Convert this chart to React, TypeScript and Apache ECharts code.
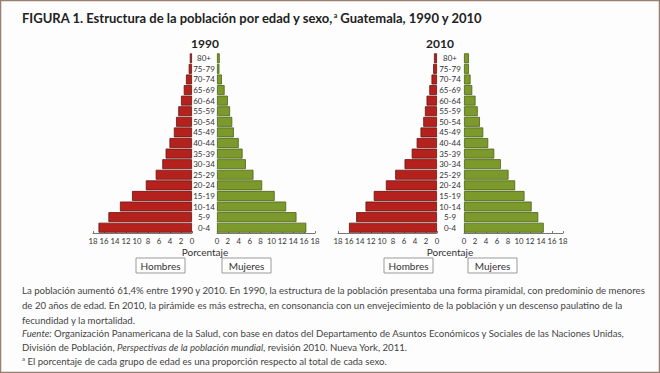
import React, { useEffect, useRef } from "react";
import * as echarts from "echarts";

const ageGroups = ["0-4","5-9","10-14","15-19","20-24","25-29","30-34","35-39","40-44","45-49","50-54","55-59","60-64","65-69","70-74","75-79","80+"];
const men1990 = [17.0,15.2,13.1,10.9,8.4,6.6,5.4,4.8,4.1,3.3,2.9,2.5,2.0,1.5,1.1,0.6,0.4];
const women1990 = [16.4,14.6,12.7,10.6,8.3,6.7,5.3,4.7,4.0,3.1,2.8,2.4,2.0,1.4,0.9,0.45,0.5];
const men2010 = [16.0,14.7,13.0,11.5,9.3,7.6,5.9,4.6,3.7,3.0,2.5,2.2,1.9,1.4,1.0,0.7,0.55];
const women2010 = [14.5,13.5,12.3,11.0,9.3,8.1,6.7,5.5,4.4,3.5,2.9,2.5,2.1,1.5,1.2,0.9,0.9];
const yearLabels = ["1990", "2010"];

const FONT = "Lato, 'Open Sans', sans-serif";
const RED = "#b5211d";
const RED_B = "#6a1410";
const GREEN = "#7c9a2b";
const GREEN_B = "#4b6215";

export default function App() {
  const ref = useRef<HTMLDivElement>(null);
  useEffect(() => {
    const chart = echarts.init(ref.current!, undefined, { renderer: "svg" });
    const grids = [
      { left: 93, top: 53, width: 99, height: 180 },
      { left: 217, top: 53, width: 98, height: 180 },
      { left: 338, top: 53, width: 99, height: 180 },
      { left: 464, top: 53, width: 99, height: 180 },
    ];
    const xAxes = grids.map((_, i) => ({
      type: "value" as const,
      gridIndex: i,
      min: 0,
      max: 18,
      interval: 2,
      inverse: i % 2 === 0,
      splitLine: { show: false },
      axisLine: { show: true, lineStyle: { color: "#777", width: 1 } },
      axisTick: { show: true, length: 2, inside: true, lineStyle: { color: "#777" } },
      axisLabel: { fontFamily: FONT, fontSize: 7.8, color: "#333", margin: 4 },
    }));
    const yAxes = grids.map((_, i) => ({
      type: "category" as const,
      gridIndex: i,
      data: ageGroups,
      axisLine: { show: false },
      axisTick: { show: false },
      axisLabel: {
        show: i % 2 === 1,
        fontFamily: FONT,
        fontSize: 8,
        color: "#333",
        align: "center" as const,
        margin: i === 1 ? 13 : 14,
      },
    }));
    const mk = (data: number[], i: number, male: boolean) => ({
      type: "bar" as const,
      xAxisIndex: i,
      yAxisIndex: i,
      data,
      barCategoryGap: "6%",
      itemStyle: {
        color: male ? RED : GREEN,
        borderColor: male ? RED_B : GREEN_B,
        borderWidth: 0.8,
      },
    });
    const box = (x: number, label: string) => ({
      type: "group",
      children: [
        { type: "rect", shape: { x, y: 258, width: 49, height: 15 }, style: { fill: "#fff", stroke: "#999", lineWidth: 1 } },
        { type: "text", x: x + 24.5, y: 265.5, style: { text: label, fontFamily: FONT, fontSize: 10, fill: "#333", align: "center", verticalAlign: "middle" } },
      ],
    });
    const para = (y: number, text: string) => ({
      type: "text", x: 22, y,
      style: { text, fontFamily: FONT, fontSize: 9.6, fill: "#444", verticalAlign: "middle", rich: { i: { fontStyle: "italic", fontFamily: FONT, fontSize: 9.6, fill: "#444" } } },
    });
    chart.setOption({
      animation: false,
      backgroundColor: "#fdfdfd",
      grid: grids,
      xAxis: xAxes,
      yAxis: yAxes,
      series: [mk(men1990, 0, true), mk(women1990, 1, false), mk(men2010, 2, true), mk(women2010, 3, false)],
      graphic: [
        { type: "rect", shape: { x: 0.5, y: 0.5, width: 659, height: 372 }, style: { fill: "none", stroke: "#9a7e6e", lineWidth: 1.5 } },
        {
          type: "text", x: 22, y: 18,
          style: {
            text: "{b|FIGURA 1. Estructura de la población por edad y sexo,}{s|a}{b| Guatemala, 1990 y 2010}",
            verticalAlign: "middle",
            rich: {
              b: { fontFamily: FONT, fontWeight: "bold", fontSize: 13, fill: "#222" },
              s: { fontFamily: FONT, fontWeight: "bold", fontSize: 7, fill: "#222", verticalAlign: "top", padding: [0, 0, 6, 0] },
            },
          },
        },
        { type: "text", x: 205, y: 43, style: { text: yearLabels[0], fontFamily: FONT, fontWeight: "bold", fontSize: 12, fill: "#222", align: "center", verticalAlign: "middle" } },
        { type: "text", x: 440, y: 43, style: { text: yearLabels[1], fontFamily: FONT, fontWeight: "bold", fontSize: 12, fill: "#222", align: "center", verticalAlign: "middle" } },
        { type: "text", x: 205, y: 252, style: { text: "Porcentaje", fontFamily: FONT, fontSize: 10, fill: "#333", align: "center", verticalAlign: "middle" } },
        { type: "text", x: 450, y: 252, style: { text: "Porcentaje", fontFamily: FONT, fontSize: 10, fill: "#333", align: "center", verticalAlign: "middle" } },
        box(136, "Hombres"),
        box(222, "Mujeres"),
        box(384, "Hombres"),
        box(468, "Mujeres"),
        para(290, "La población aumentó 61,4% entre 1990 y 2010. En 1990, la estructura de la población presentaba una forma piramidal, con predominio de menores"),
        para(305, "de 20 años de edad. En 2010, la pirámide es más estrecha, en consonancia con un envejecimiento de la población y un descenso paulatino de la"),
        para(320, "fecundidad y la mortalidad."),
        para(333, "{i|Fuente:} Organización Panamericana de la Salud, con base en datos del Departamento de Asuntos Económicos y Sociales de las Naciones Unidas,"),
        para(347, "División de Población, {i|Perspectivas de la población mundial}, revisión 2010. Nueva York, 2011."),
        {
          type: "text", x: 22, y: 361,
          style: {
            text: "{s|a} El porcentaje de cada grupo de edad es una proporción respecto al total de cada sexo.",
            fontFamily: FONT, fontSize: 9.6, fill: "#444", verticalAlign: "middle",
            rich: { s: { fontFamily: FONT, fontSize: 6, fill: "#444", verticalAlign: "top", padding: [0, 0, 5, 0] } },
          },
        },
      ],
    });
    return () => chart.dispose();
  }, []);
  return <div ref={ref} style={{ position: "absolute", left: 0, top: 0, width: 660, height: 373 }} />;
}
